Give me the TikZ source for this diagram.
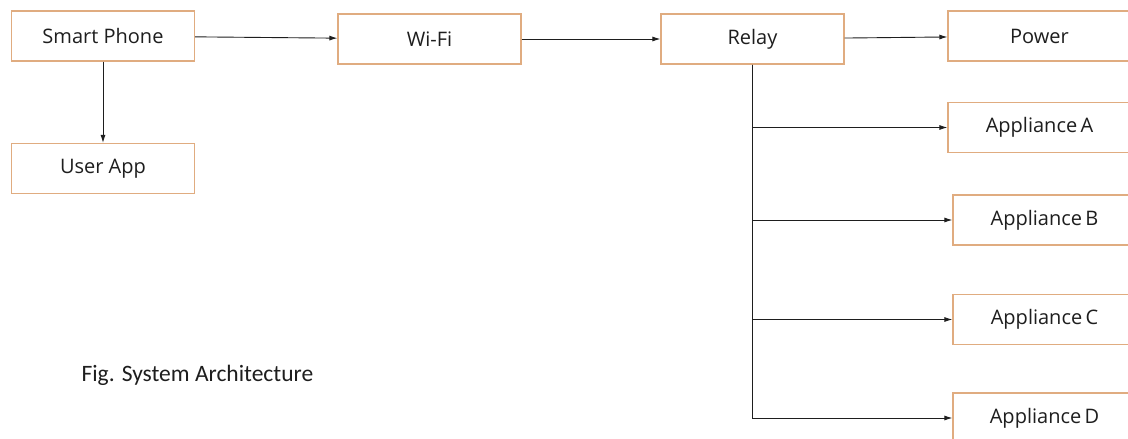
\documentclass[tikz,border=0pt]{standalone}
\usepackage{fontspec}
\setmainfont{Open Sans}
\newfontfamily\capfont{Carlito}
\usetikzlibrary{arrows.meta}
\definecolor{boxorange}{RGB}{224,172,128}
\definecolor{ink}{RGB}{30,30,30}
\tikzset{
  blk/.style={draw=boxorange, line width=1.2pt, fill=white, minimum width=183pt, minimum height=50pt, inner sep=0pt, text=ink, font=\fontsize{20}{22}\selectfont},
  arr/.style={draw=ink, line width=0.9pt, -{Latex[length=8pt,width=5pt]}}
}
\begin{document}
\begin{tikzpicture}[x=1pt,y=-1pt]
\path[use as bounding box, clip] (0,0) rectangle (1128,439);
\fill[white] (0,0) rectangle (1128,439);
\node[blk] (sp) at (103,36) {Smart Phone};
\node[blk] (ua) at (103,168.5) {User App};
\node[blk] (wifi) at (429.5,39) {Wi-Fi};
\node[blk] (relay) at (752.5,39) {Relay};
\node[blk] (pow) at (1039.5,36) {Power};
\node[blk] (apa) at (1039.5,127.5) {Appliance\,A};
\node[blk] (apb) at (1044.5,220) {Appliance\,B};
\node[blk] (apc) at (1044.5,319.5) {Appliance\,C};
\node[blk] (apd) at (1044.5,418) {Appliance\,D};
\node[text=ink, font=\capfont\fontsize{23.5}{26}\selectfont, anchor=west] (cap) at (78,375) {Fig. System Architecture};
\draw[arr] (sp) -- (wifi);
\draw[arr] (wifi) -- (relay);
\draw[arr] (relay) -- (pow);
\draw[arr] (sp) -- (ua);
\draw[arr] (relay.south) |- (apa.west);
\draw[arr] (relay.south) |- (apb.west);
\draw[arr] (relay.south) |- (apc.west);
\draw[arr] (relay.south) |- (apd.west);
\end{tikzpicture}
\end{document}
